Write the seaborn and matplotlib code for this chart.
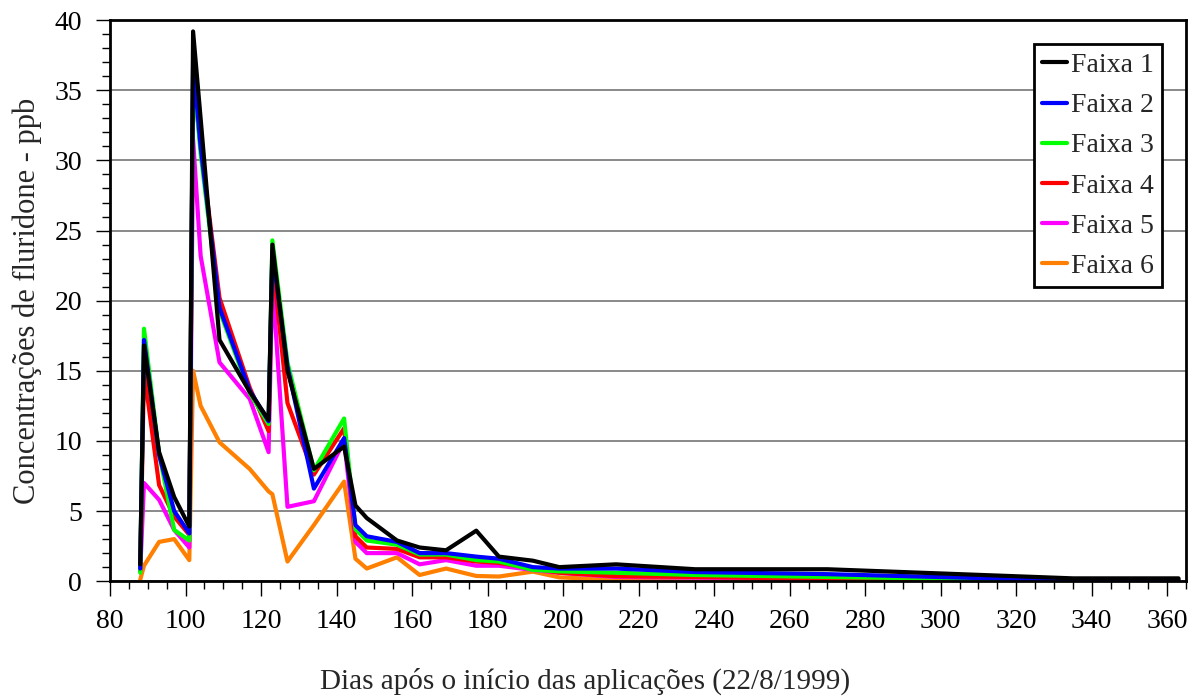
import numpy as np
import pandas as pd
import matplotlib
matplotlib.use("Agg")
import matplotlib.pyplot as plt
from matplotlib.ticker import MultipleLocator
import seaborn as sns

# Dias de amostragem
dias = [88, 89, 93, 97, 101, 102, 104, 109, 117, 122, 123, 127, 134, 142, 145,
        148, 156, 162, 169, 177, 183, 192, 199, 214, 235, 270, 335, 363]

# Concentrações (ppb)
faixa1 = [1.2, 16.8, 9.2, 6.0, 3.9, 39.2, 33.0, 17.2, 13.5, 11.5, 24.0, 15.0, 8.0, 9.6, 5.4,
          4.5, 2.9, 2.4, 2.2, 3.6, 1.75, 1.46, 1.0, 1.2, 0.85, 0.85, 0.2, 0.2]
faixa2 = [0.9, 17.2, 9.0, 5.0, 3.4, 37.0, 31.0, 19.5, 13.6, 11.4, 23.5, 15.3, 6.6, 10.2, 4.0,
          3.2, 2.8, 2.0, 2.0, 1.75, 1.6, 1.0, 0.9, 0.9, 0.65, 0.5, 0.05, 0.05]
faixa3 = [0.6, 18.0, 9.1, 3.65, 2.9, 36.5, 30.5, 19.3, 13.4, 11.2, 24.3, 15.6, 7.9, 11.6, 3.7,
          2.9, 2.6, 1.9, 1.9, 1.5, 1.4, 0.8, 0.7, 0.6, 0.44, 0.3, 0.05, 0.05]
faixa4 = [0.8, 15.0, 6.85, 4.6, 3.3, 36.0, 31.0, 20.2, 13.8, 10.7, 23.0, 12.7, 7.6, 10.9, 3.2,
          2.4, 2.3, 1.7, 1.7, 1.4, 1.3, 0.9, 0.6, 0.35, 0.3, 0.15, 0.05, 0.1]
faixa5 = [0.7, 7.0, 5.8, 3.65, 2.4, 31.5, 23.2, 15.6, 13.0, 9.2, 21.5, 5.3, 5.7, 10.0, 2.8,
          2.0, 2.0, 1.2, 1.5, 1.1, 1.1, 0.8, 0.6, 0.3, 0.25, 0.15, 0.05, 0.1]
faixa6 = [0.1, 1.1, 2.8, 3.0, 1.5, 15.0, 12.5, 9.9, 8.0, 6.4, 6.2, 1.4, 4.0, 7.1, 1.6,
          0.9, 1.7, 0.44, 0.9, 0.37, 0.33, 0.68, 0.27, 0.1, 0.05, 0.0, 0.0, 0.0]

nomes = ["Faixa 1", "Faixa 2", "Faixa 3", "Faixa 4", "Faixa 5", "Faixa 6"]
series = [faixa1, faixa2, faixa3, faixa4, faixa5, faixa6]
cores = ["#000000", "#0000ff", "#00ff00", "#ff0000", "#ff00ff", "#ff8000"]

df = pd.concat([pd.DataFrame({"dia": dias, "ppb": v, "faixa": n})
                for n, v in zip(nomes, series)], ignore_index=True)

sns.set_style("ticks")
plt.rcParams["font.family"] = ["Liberation Serif", "DejaVu Serif"]
plt.rcParams["font.size"] = 20

fig = plt.figure(figsize=(12.01, 6.96), dpi=100)
ax = fig.add_axes([0.0916, 0.165, 0.896, 0.806])

# desenhar Faixa 6 primeiro, Faixa 1 por cima
ordem = nomes[::-1]
sns.lineplot(data=df, x="dia", y="ppb", hue="faixa", hue_order=ordem,
             palette=dict(zip(nomes, cores)), estimator=None, sort=False,
             linewidth=3, ax=ax)

ax.set_xlim(80, 365)
ax.set_ylim(0, 40)
ax.xaxis.set_major_locator(MultipleLocator(20))
ax.xaxis.set_minor_locator(MultipleLocator(5))
ax.yaxis.set_major_locator(MultipleLocator(5))
ax.yaxis.set_minor_locator(MultipleLocator(1))
ax.tick_params(axis="x", which="major", direction="out", length=11, width=1,
               colors="black", labelsize=20, pad=9)
ax.tick_params(axis="y", which="major", direction="out", length=10, width=1,
               colors="black", labelsize=20, pad=10)
ax.tick_params(which="minor", direction="out", length=5.5, width=1, colors="black")
ax.tick_params(axis="y", which="both", right=False)
ax.tick_params(axis="x", which="both", top=False)
ax.yaxis.grid(True, which="major", color="#6a6a6a", linewidth=1.1)
for s in ax.spines.values():
    s.set_visible(True)
    s.set_color("black")
    s.set_linewidth(2)

ax.set_xlabel("Dias após o início das aplicações (22/8/1999)", fontsize=21, labelpad=24)
ax.xaxis.set_label_coords(0.441, -0.155)
ax.set_ylabel("Concentrações de fluridone - ppb", fontsize=22, labelpad=9)

handles, labels = ax.get_legend_handles_labels()
mapa = dict(zip(labels, handles))
leg = ax.legend([mapa[n] for n in nomes], nomes, loc="upper right",
                bbox_to_anchor=(0.978, 0.957), fontsize=20, frameon=True,
                fancybox=False, edgecolor="black", handlelength=0.9,
                handletextpad=0.15, labelspacing=0.53, borderpad=0.3,
                borderaxespad=0)
leg.get_frame().set_linewidth(2)
leg.get_frame().set_alpha(1)

fig.savefig("out.png", dpi=100)
